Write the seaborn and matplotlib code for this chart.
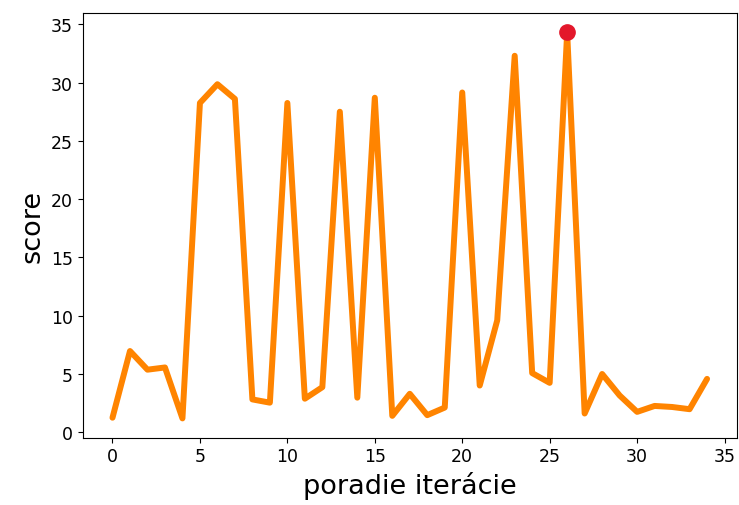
import numpy as np
import pandas as pd
import seaborn as sns
import matplotlib
matplotlib.use("Agg")
import matplotlib.pyplot as plt

sns.set_style("ticks")
plt.rcParams['font.family'] = ['DejaVu Sans']
plt.rcParams['text.color'] = 'black'
plt.rcParams['axes.labelcolor'] = 'black'
plt.rcParams['xtick.color'] = 'black'
plt.rcParams['ytick.color'] = 'black'

iteracie = list(range(35))
score = [1.25, 6.97, 5.37, 5.56, 1.19, 28.25, 29.86, 28.6, 2.82, 2.54,
         28.25, 2.88, 3.87, 27.5, 2.97, 28.7, 1.41, 3.3, 1.47, 2.12,
         29.15, 4.01, 9.6, 32.3, 5.08, 4.24, 34.3, 1.61, 5.0, 3.16,
         1.75, 2.26, 2.17, 1.98, 4.58]

df = pd.DataFrame({"iteracia": iteracie, "score": score})
best = df.loc[df["score"].idxmax()]

fig, ax = plt.subplots(figsize=(7.39, 5.06), dpi=100)
fig.subplots_adjust(left=0.112, right=0.997, top=0.972, bottom=0.133)

sns.lineplot(x="iteracia", y="score", data=df, color="#ff8400", linewidth=4.3, ax=ax)
ax.plot(best["iteracia"], best["score"], "o", color="#e3172b", markersize=11, zorder=5)

ax.set_xlabel("poradie iterácie", fontsize=19.5)
ax.set_ylabel("score", fontsize=19.5)
ax.tick_params(labelsize=12.5)
for s in ax.spines.values():
    s.set_color("black")

plt.savefig("out.png")
